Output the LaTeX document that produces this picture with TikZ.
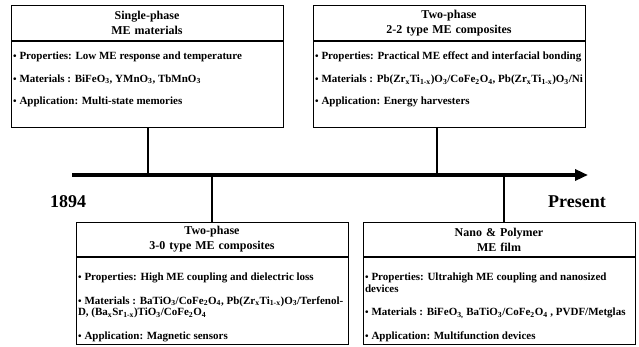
\documentclass[tikz,border=0pt]{standalone}
\usepackage{fontspec}
\setmainfont{Liberation Serif}
\usetikzlibrary{positioning,arrows.meta}
\tikzstyle{head} = [draw,rectangle,line width=0.8pt,minimum width=272pt,minimum height=35pt,text width=262pt,align=center,inner sep=0pt,font=\fontsize{12}{15}\selectfont\bfseries]
\tikzstyle{body} = [draw,rectangle,line width=0.8pt,minimum width=272pt,inner sep=0pt,font=\fontsize{11}{11.5}\selectfont\bfseries]
\newcommand{\boxtext}[3]{\parbox[c][#1][t]{268pt}{\raggedright\vspace*{#2}#3}}
\newcommand{\dotitem}{{\fontsize{10}{10}\selectfont\textbullet}\hspace{3pt}}
\newcommand{\low}[1]{\textsubscript{#1}}

\begin{document}
\begin{tikzpicture}
		[
		x=1pt,y=-1pt,
		year/.style={font=\fontsize{18}{18}\selectfont\bfseries},
		timeline/.style={line width=3.2pt,-{Triangle[length=13pt,width=11pt]}},
		link/.style={line width=2.2pt}
		]
		\useasboundingbox (0,0) rectangle (639,346);
		\node[head,anchor=north](single) at (147,5) {Single-phase\\ME materials};
		\node[body,below=0pt of single](singletext) {\boxtext{86pt}{11pt}{\dotitem Properties: Low ME response and temperature\\[11pt]
			\dotitem Materials : BiFeO\low{3}, YMnO\low{3}, TbMnO\low{3}\\[11pt]
			\dotitem Application: Multi-state memories}};
		\node[head,anchor=north](layered) at (449,5) {Two-phase\\2-2 type ME composites};
		\node[body,below=0pt of layered](layeredtext) {\boxtext{86pt}{11pt}{\dotitem Properties: Practical ME effect and interfacial bonding\\[11pt]
			\mbox{\dotitem Materials : Pb(Zr\low{x}Ti\low{1-x})O\low{3}/CoFe\low{2}O\low{4}, Pb(Zr\low{x}Ti\low{1-x})O\low{3}/Ni}\\[11pt]
			\dotitem Application: Energy harvesters}};
		\node[head,anchor=north,minimum height=34pt](particle) at (212,222) {Two-phase\\3-0 type ME composites};
		\node[body,below=0pt of particle](particletext) {\boxtext{87pt}{16pt}{\dotitem Properties: High ME coupling and dielectric loss\\[12pt]
			\dotitem Materials : BaTiO\low{3}/CoFe\low{2}O\low{4}, Pb(Zr\low{x}Ti\low{1-x})O\low{3}/Terfenol-\\
			D, (Ba\low{x}Sr\low{1-x})TiO\low{3}/CoFe\low{2}O\low{4}\\[12pt]
			\dotitem Application: Magnetic sensors}};
		\node[head,anchor=north,minimum height=34pt](film) at (499,222) {Nano \& Polymer\\ME film};
		\node[body,below=0pt of film](filmtext) {\boxtext{87pt}{16pt}{\dotitem Properties: Ultrahigh ME coupling and nanosized\\
			devices\\[12pt]
			\dotitem Materials : BiFeO\low{3,} BaTiO\low{3}/CoFe\low{2}O\low{4} , PVDF/Metglas\\[12pt]
			\dotitem Application: Multifunction devices}};

		\coordinate (start) at (72,175);
		\coordinate (stop) at (588,175);
		\coordinate (tick1) at (148,175);
		\coordinate (tick2) at (212,175);
		\coordinate (tick3) at (437,175);
		\coordinate (tick4) at (504,175);
		\node[year](past) at (68,202) {1894};
		\node[year](now) at (577,202) {Present};

		\draw[timeline] (start) -- (stop);
		\draw[link] (singletext.south -| tick1) -- (tick1);
		\draw[link] (layeredtext.south -| tick3) -- (tick3);
		\draw[link] (tick2) -- (particle.north -| tick2);
		\draw[link] (tick4) -- (film.north -| tick4);
\end{tikzpicture}
\end{document}
